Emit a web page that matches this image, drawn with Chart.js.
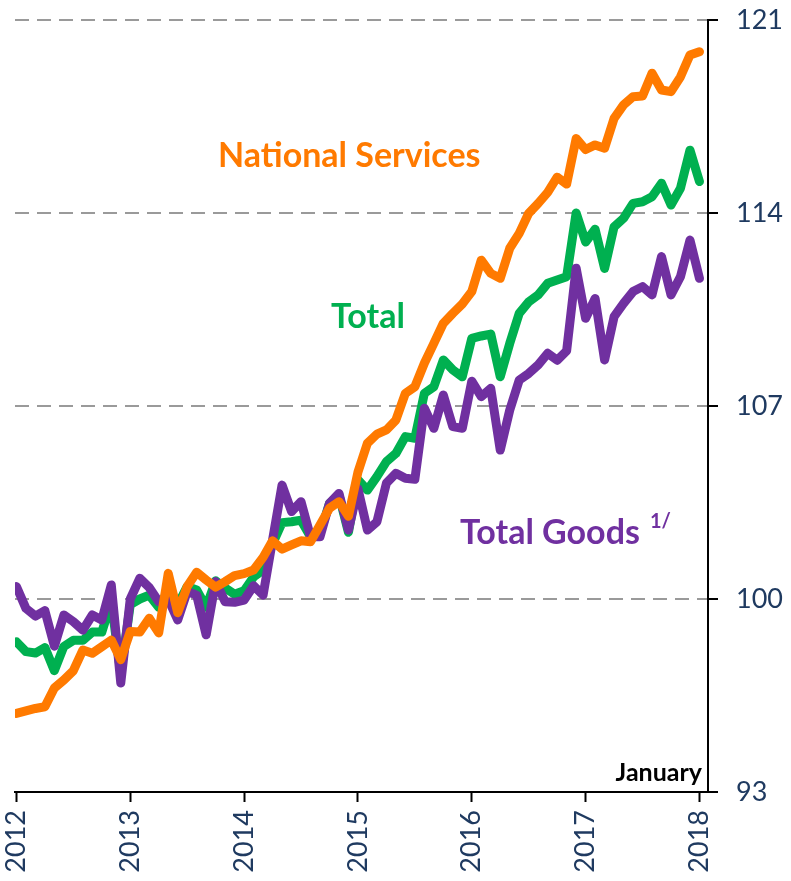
<!DOCTYPE html>
<html>
<head>
<meta charset="utf-8">
<script src="https://cdn.jsdelivr.net/npm/chart.js@4.4.1/dist/chart.umd.min.js"></script>
<style>
  html, body { margin: 0; padding: 0; background: #fff; }
  #wrap { width: 791px; height: 881px; }
</style>
</head>
<body>
<div id="wrap"><canvas id="priceChart" width="791" height="881"></canvas></div>
<script>
// monthly index, Jan 2012 .. Jan 2018 (73 points)
var yearLabels = ['2012', '2013', '2014', '2015', '2016', '2017', '2018'];

var nationalServices = [
    95.85, 95.94, 96.03, 96.09, 96.77, 97.06, 97.40, 98.15, 98.03, 98.27, 98.51, 97.80,
    98.82, 98.80, 99.30, 98.77, 100.93, 99.50, 100.45, 100.97, 100.69, 100.43, 100.63, 100.85,
    100.92, 101.05, 101.51, 102.11, 101.81, 101.96, 102.11, 102.08, 102.68, 103.29, 103.53, 103.00,
    104.60, 105.65, 105.98, 106.13, 106.49, 107.46, 107.70, 108.55, 109.27, 110.00, 110.36, 110.70,
    111.15, 112.29, 111.81, 111.63, 112.72, 113.26, 113.99, 114.35, 114.75, 115.30, 115.05, 116.70,
    116.30, 116.47, 116.35, 117.43, 117.92, 118.22, 118.24, 119.07, 118.46, 118.40, 118.94, 119.73,
    119.85
];

var totalIndex = [
    98.45, 98.09, 98.04, 98.24, 97.40, 98.28, 98.50, 98.50, 98.80, 98.80, 99.90, 97.30,
    99.80, 100.00, 100.14, 99.70, 100.30, 99.78, 100.45, 100.33, 99.70, 100.66, 100.40, 100.17,
    100.30, 100.80, 101.05, 102.00, 102.77, 102.80, 102.86, 102.26, 102.38, 103.47, 103.77, 102.42,
    104.32, 103.95, 104.44, 104.98, 105.28, 105.89, 105.83, 107.46, 107.70, 108.67, 108.31, 108.06,
    109.45, 109.54, 109.61, 108.06, 109.27, 110.36, 110.78, 111.03, 111.45, 111.57, 111.69, 114.00,
    112.95, 113.41, 111.99, 113.50, 113.81, 114.35, 114.41, 114.59, 115.08, 114.29, 114.90, 116.28,
    115.14
];

var totalGoods = [
    100.45, 99.66, 99.38, 99.58, 98.29, 99.42, 99.18, 98.87, 99.42, 99.24, 100.51, 96.95,
    100.00, 100.75, 100.42, 99.90, 100.00, 99.24, 100.27, 100.14, 98.70, 100.63, 99.90, 99.88,
    99.96, 100.48, 100.14, 102.14, 104.13, 103.17, 103.53, 102.26, 102.26, 103.47, 103.83, 102.50,
    104.00, 102.50, 102.80, 104.20, 104.56, 104.38, 104.34, 106.92, 106.19, 107.40, 106.25, 106.19,
    107.90, 107.34, 107.64, 105.40, 106.85, 107.94, 108.18, 108.49, 108.91, 108.66, 109.00, 112.00,
    110.18, 110.90, 108.67, 110.24, 110.72, 111.15, 111.33, 111.03, 112.42, 111.03, 111.69, 113.02,
    111.63
];

var yTicks = [93, 100, 107, 114, 121];

function toPoints(arr) {
    return arr.map(function (v, i) { return { x: i, y: v }; });
}

var tickFont = { family: 'Lato', size: 27 };
var tickColor = '#1F3A60';

// series names written on the chart instead of a legend
var labelPlugin = {
    id: 'seriesLabels',
    afterDatasetsDraw: function (chart) {
        var c = chart.ctx;
        c.save();
        c.textBaseline = 'middle';
        c.textAlign = 'left';
        c.font = 'bold 34px Lato';
        c.fillStyle = '#FF7A00';
        c.fillText('National Services', 218, 156);
        c.fillStyle = '#00B050';
        c.fillText('Total', 331, 317);
        c.fillStyle = '#7030A0';
        c.fillText('Total Goods', 460, 533);
        var w = c.measureText('Total Goods').width;
        c.font = 'bold 20px Lato';
        c.fillText('1/', 460 + w + 10, 522);
        c.fillStyle = '#000';
        c.font = 'bold 25px Lato';
        c.textAlign = 'right';
        c.fillText('January', 702, 773);
        c.restore();
    }
};

var ctx = document.getElementById('priceChart').getContext('2d');

var lineStyle = {
    borderWidth: 9,
    pointRadius: 0,
    fill: false,
    tension: 0,
    borderCapStyle: 'round',
    borderJoinStyle: 'round'
};

var priceChart = new Chart(ctx, {
    type: 'line',
    data: {
        datasets: [
            Object.assign({ label: 'National Services', data: toPoints(nationalServices), borderColor: '#FF7A00' }, lineStyle),
            Object.assign({ label: 'Total Goods', data: toPoints(totalGoods), borderColor: '#7030A0' }, lineStyle),
            Object.assign({ label: 'Total', data: toPoints(totalIndex), borderColor: '#00B050' }, lineStyle)
        ]
    },
    options: {
        responsive: false,
        maintainAspectRatio: false,
        animation: false,
        layout: { padding: { left: 15, top: 20, right: 0, bottom: 0 } },
        plugins: {
            legend: { display: false },
            tooltip: { enabled: false }
        },
        scales: {
            x: {
                type: 'linear',
                min: -0.15,
                max: 72.9,
                afterBuildTicks: function (scale) {
                    scale.ticks = yearLabels.map(function (y, k) { return { value: k * 12 }; });
                },
                afterFit: function (scale) {
                    scale.height = 89;
                    scale.paddingLeft = 0;
                    scale.paddingRight = 0;
                },
                ticks: {
                    autoSkip: false,
                    minRotation: 90,
                    maxRotation: 90,
                    padding: 8,
                    color: tickColor,
                    font: tickFont,
                    callback: function (value) {
                        return yearLabels[Math.round(value / 12)];
                    }
                },
                grid: {
                    drawOnChartArea: false,
                    drawTicks: true,
                    tickLength: 10,
                    tickColor: '#000',
                    tickWidth: 2
                },
                border: { color: '#000', width: 2 }
            },
            y: {
                position: 'right',
                min: 93,
                max: 121,
                afterBuildTicks: function (scale) {
                    scale.ticks = yTicks.map(function (v) { return { value: v }; });
                },
                afterFit: function (scale) {
                    scale.width = 83;
                    scale.paddingTop = 0;
                    scale.paddingBottom = 0;
                },
                ticks: {
                    padding: 18,
                    color: tickColor,
                    font: tickFont
                },
                grid: {
                    color: '#9A9A9A',
                    lineWidth: 2,
                    tickColor: '#000',
                    tickLength: 10,
                    tickWidth: 2
                },
                border: { color: '#000', width: 2, dash: [14, 8] }
            }
        }
    },
    plugins: [labelPlugin]
});
</script>
</body>
</html>
